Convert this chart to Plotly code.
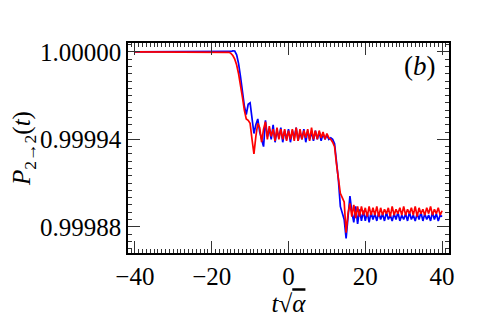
import plotly.graph_objects as go

# time grid: t*sqrt(alpha) from -40 to 40 in steps of 0.5
t_start = -40
t_step = 0.5

# deficit 1 - P(t), in units of 1e-6
red_deficit = [
    0, 0, 0, 0, 0, 0, 0, 0, 0, 0,
    0, 0, 0, 0, 0, 0, 0, 0, 0, 0,
    0, 0, 0, 0, 0, 0, 0, 0, 0, 0,
    0, 0, 0, 0, 0, 0, 0, 0, 0, 0,
    0, 0, 0, 0, 0, 0, 0, 0, 0, 0.3,
    1, 2.5, 5, 9, 15, 22, 31, 40, 46, 47,
    49, 60, 70, 58, 49, 52, 62, 53, 48, 60,
    51, 58, 53, 61, 52, 60, 53, 60, 53, 61,
    54, 60, 53, 61, 52, 61, 53, 60, 54, 59,
    53, 61, 52, 60, 54, 60, 54, 59, 55, 60,
    56, 59, 60, 62, 65, 77, 89, 97, 100, 103,
    124, 111, 104, 113, 105, 114, 106, 113, 106, 112,
    107, 113, 106, 112, 107, 112, 106, 113, 107, 112,
    108, 111, 107, 113, 106, 112, 108, 111, 107, 112,
    106, 112, 108, 111, 107, 112, 106, 113, 107, 111,
    108, 112, 107, 111, 106, 112, 108, 111, 107, 112,
    109,
]

blue_deficit = [
    0, 0, 0, 0, 0, 0, 0, 0, 0, 0,
    0, 0, 0, 0, 0, 0, 0, 0, 0, 0,
    0, 0, 0, 0, 0, 0, 0, 0, 0, 0,
    0, 0, 0, 0, 0, 0, 0, 0, 0, 0,
    0, 0, 0, 0, 0, 0, 0, 0, 0, 0,
    -0.3, -0.7, -0.6, 2, 8, 17, 27, 37, 43, 36,
    35, 46, 56, 50, 46, 55, 60, 65, 47, 58,
    53, 60, 50, 62, 54, 59, 52, 62, 54, 60,
    53, 62, 54, 59, 52, 61, 55, 60, 53, 62,
    54, 60, 55, 61, 54, 60, 55, 61, 56, 60,
    57, 60, 59, 60, 63, 75, 88, 106, 111, 115,
    128, 112, 99, 110, 117, 106, 118, 108, 116, 109,
    116, 110, 117, 110, 115, 111, 116, 110, 115, 111,
    116, 110, 115, 112, 116, 111, 115, 110, 116, 112,
    115, 111, 116, 110, 115, 112, 116, 111, 115, 110,
    116, 111, 115, 112, 116, 110, 115, 111, 116, 112,
    113,
]

assert len(red_deficit) == 161 and len(blue_deficit) == 161

y_ticks = [1.0, 0.99994, 0.99988]
x_ticks = [-40, -20, 0, 20, 40]

blue_p = [1 - d * 1e-6 for d in blue_deficit]
red_p = [1 - d * 1e-6 for d in red_deficit]

FONT = "Liberation Serif"

fig = go.Figure()
fig.add_trace(go.Scatter(y=blue_p, x0=t_start, dx=t_step, mode="lines",
                         line=dict(color="#0000ff", width=1.7)))
fig.add_trace(go.Scatter(y=red_p, x0=t_start, dx=t_step, mode="lines",
                         line=dict(color="#ff0000", width=1.7)))

axis_common = dict(
    showline=True, linecolor="black", linewidth=1.5, mirror="allticks",
    ticks="inside", ticklen=12, tickwidth=1, tickcolor="#333",
    showgrid=False, zeroline=False,
    tickfont=dict(family=FONT, size=25, color="black"),
)

fig.update_xaxes(
    range=[-41.8, 41.8], tickvals=x_ticks,
    ticktext=["\u221240", "\u221220", "0", "20", "40"],
    minor=dict(ticks="inside", dtick=1, ticklen=4, tickcolor="#333"),
    title=dict(text="<i>t</i>\u221a<span style='text-decoration:overline'><i>\u03b1</i></span>",
               font=dict(family=FONT, size=25, color="black"), standoff=6),
    **axis_common,
)
fig.update_yaxes(
    range=[0.999862, 1.0000061], tickvals=y_ticks, tickformat=".5f",
    minor=dict(ticks="inside", dtick=5e-6, ticklen=4, tickcolor="#333"),
    title=dict(text="<i>P</i><sub>2\u21922</sub>(<i>t</i>)",
               font=dict(family=FONT, size=25, color="black"), standoff=2),
    **axis_common,
)

fig.add_annotation(text="(<i>b</i>)", xref="paper", yref="paper",
                   x=0.911, y=0.89, xanchor="center", yanchor="middle",
                   showarrow=False,
                   font=dict(family=FONT, size=27, color="black"))

fig.update_layout(
    width=491, height=327,
    margin=dict(l=115, r=50, t=35, b=82),
    plot_bgcolor="white", paper_bgcolor="white",
    showlegend=False,
)

fig.write_html("out.html")
